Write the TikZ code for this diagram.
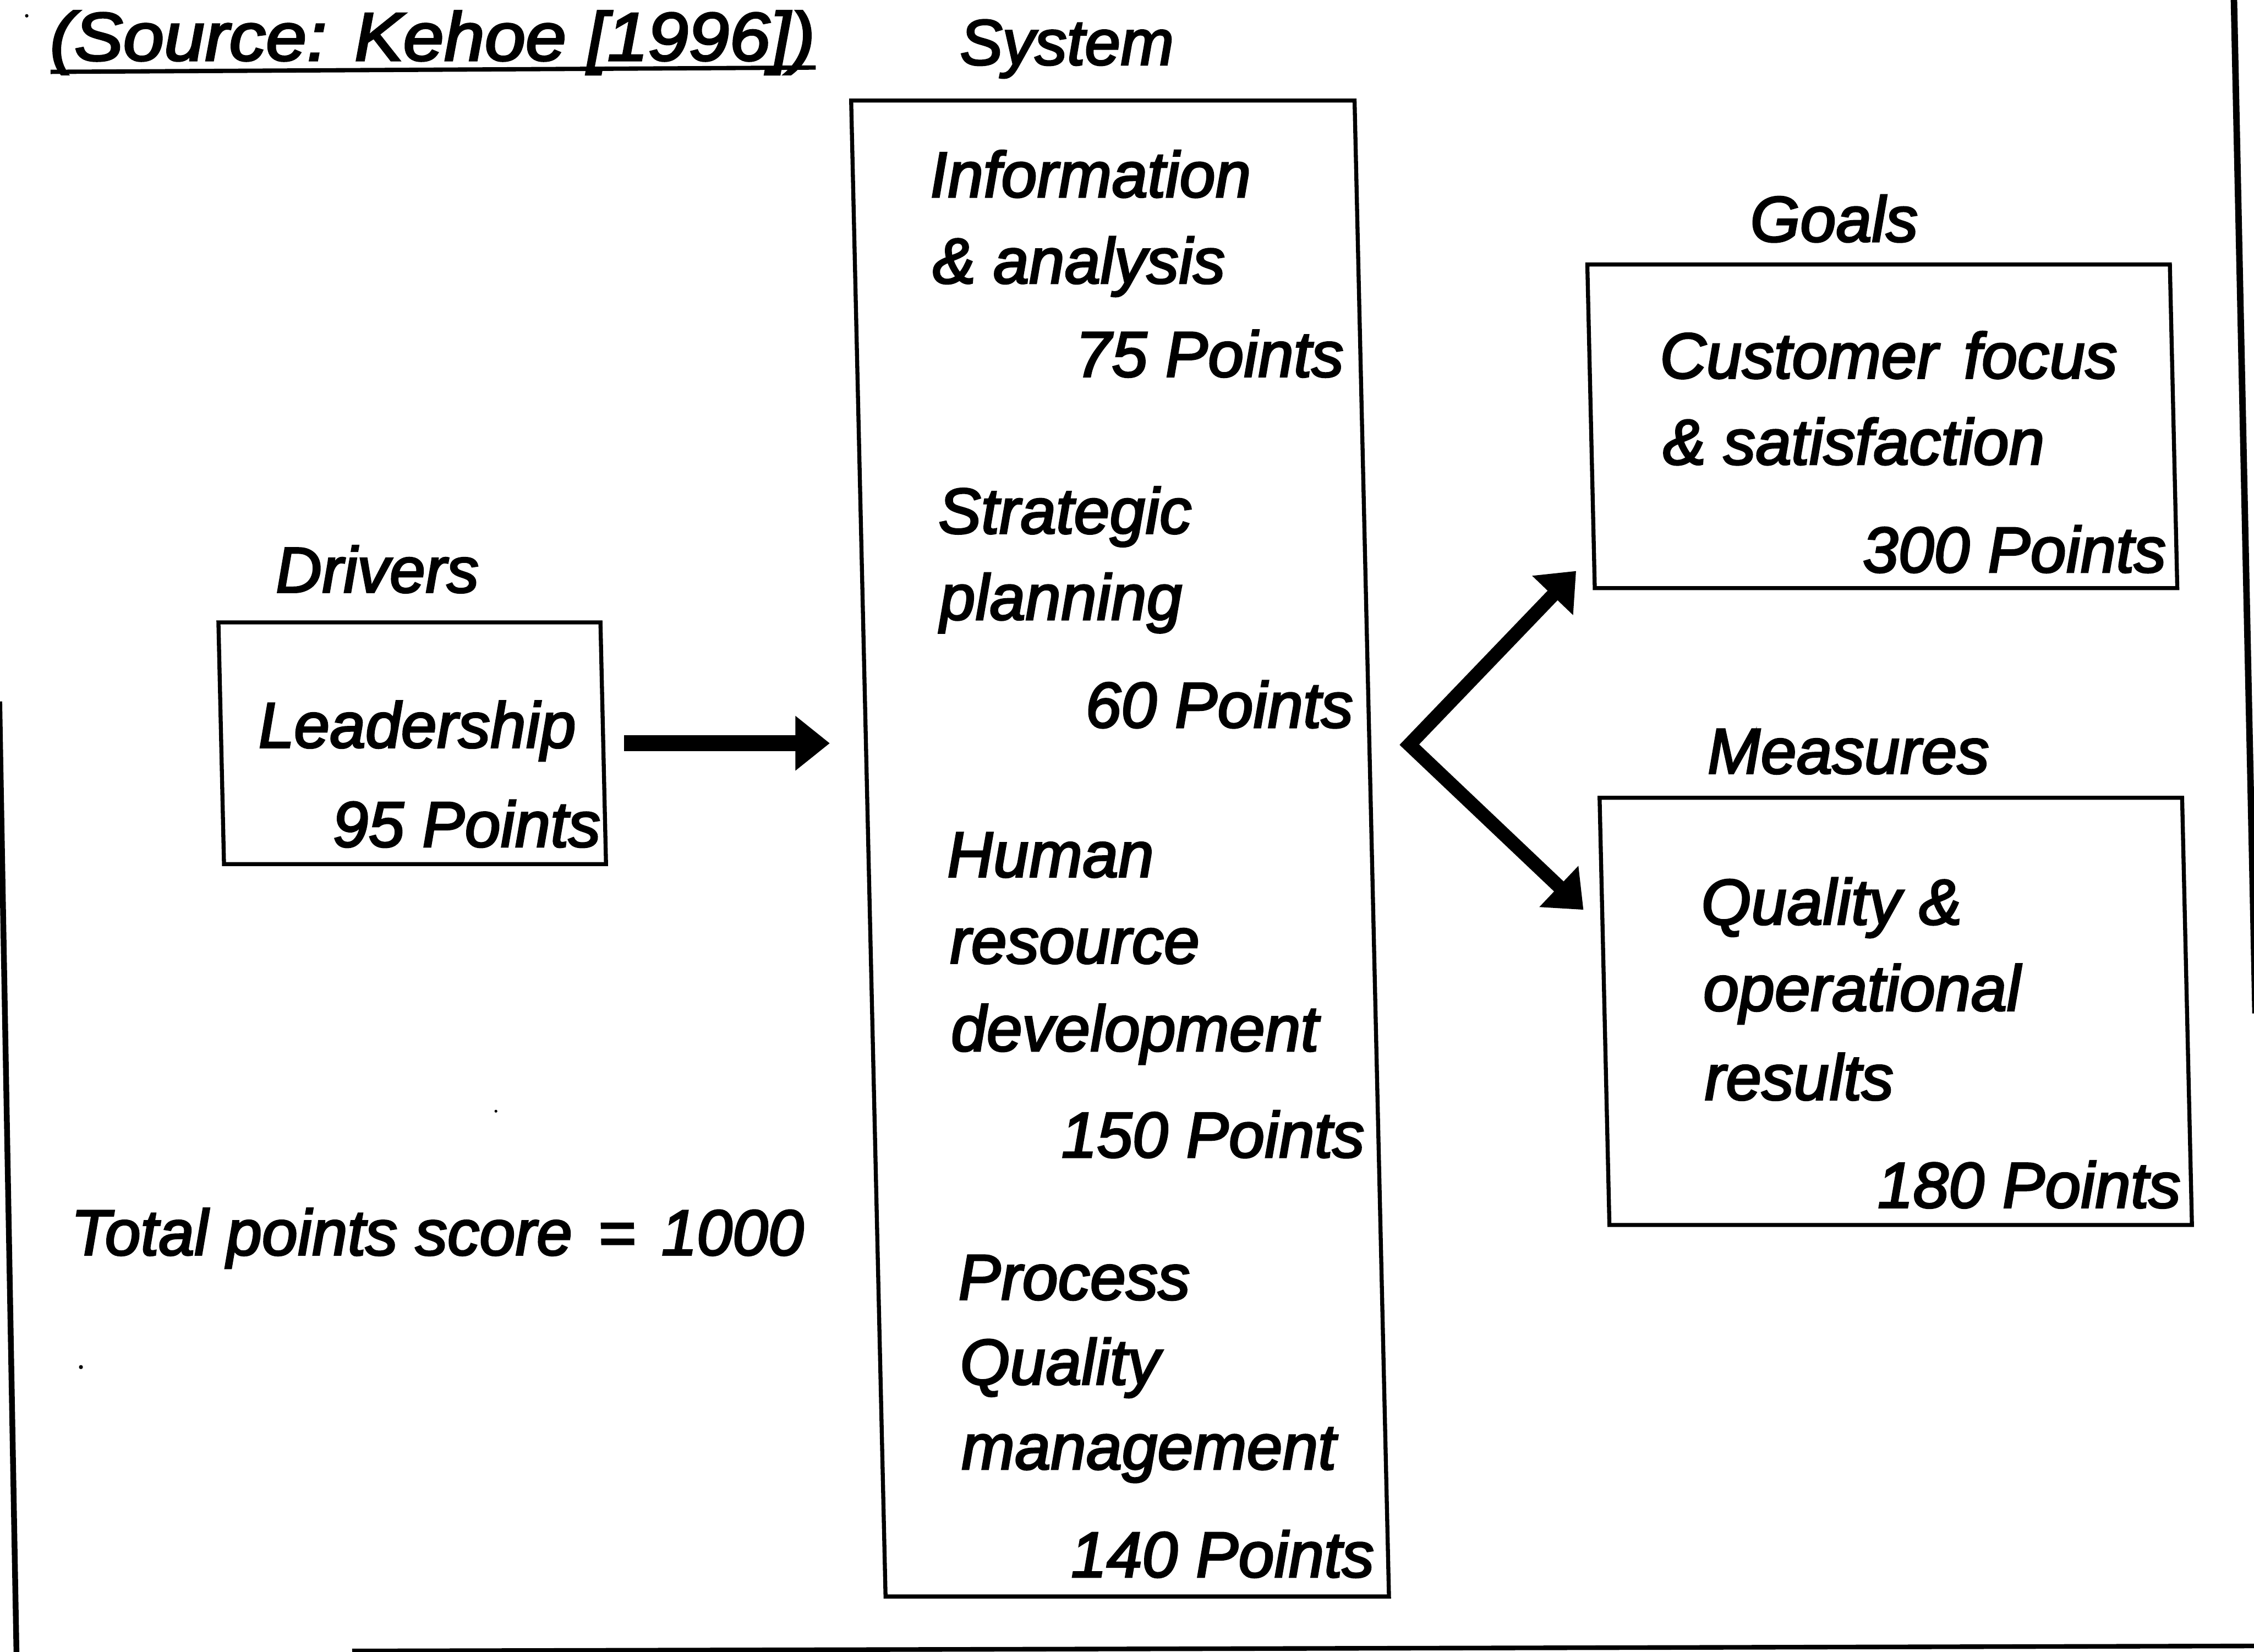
\documentclass[tikz,border=0pt]{standalone}
\usepackage{fontspec}
\setmainfont{Liberation Sans}
\newfontfamily\lblfam{Liberation Sans}[FakeBold=3, ItalicFeatures={FakeBold=3}]
\usetikzlibrary{arrows.meta,calc}
\newcommand\lblfont{\lblfam\fontsize{12.7pt}{15pt}\selectfont\itshape}
\newcommand\srcfont{\lblfam\fontsize{13.5pt}{16pt}\selectfont\itshape}

\begin{document}
\begin{tikzpicture}[x=0.01cm, y=-0.01cm,
  lbl/.style={inner sep=0pt, outer sep=0pt, anchor=base west, font=\lblfont},
  pts/.style={lbl, anchor=base east},
  panel/.style={draw, line width=0.028cm, inner sep=0pt, outer sep=0pt, anchor=north west},
  feedarrow/.style={line width=0.113cm, -{Triangle[length=0.24cm, width=0.366cm]}},
  forkarrow/.style={line width=0.096cm, line join=miter,
    {Triangle[length=0.236cm, width=0.379cm]}-{Triangle[length=0.236cm, width=0.379cm]}},
  pageedge/.style={line width=0.04cm}
]
\useasboundingbox (0,0) rectangle (1568,1149);

% edges of the scanned sheet
\draw[pageedge] (-0.5,488) -- (11.5,1152);
\draw[pageedge, line width=0.045cm] (1554,-2) -- (1569,705);
\draw[pageedge, line width=0.032cm] (245,1148.5) -- (1570,1145);

% small specks
\fill (18.6,11) circle[radius=0.012cm];
\fill (345,773) circle[radius=0.01cm];
\fill (56.3,951) circle[radius=0.014cm];

\begin{scope}[xslant=-0.023, transform shape]
  % source line
  \node[lbl, font=\srcfont, xscale=1.075] (src) at (34,42) {(Source: Kehoe [1996])};
  \draw[line width=0.03cm] ($(src.base west)+(0,8)$) -- ($(src.base east)+(0,5)$);

  % boxes
  \node[panel, minimum width=2.656cm, minimum height=1.68cm] (lead) at (142,433) {};
  \node[panel, minimum width=3.5cm, minimum height=10.4cm] (sys) at (590.5,70) {};
  \node[panel, minimum width=4.05cm, minimum height=2.25cm] (goals) at (1100,184) {};
  \node[panel, minimum width=4.05cm, minimum height=2.97cm] (meas) at (1100,555) {};

  % drivers
  \node[lbl] (drvhead) at (182.5,412) {Drivers};
  \node[lbl] (lead1) at (168,520) {Leadership};
  \node[pts] (leadpts) at (404.5,589) {95 Points};

  % system
  \node[lbl] (syshead) at (667,45) {System};
  \node[lbl] (info1) at (644,137) {Information};
  \node[lbl] (info2) at (644.5,197) {\& analysis};
  \node[pts] (infopts) at (929,262) {75 Points};
  \node[lbl] (strat1) at (644.5,371) {Strategic};
  \node[lbl] (strat2) at (644,431) {planning};
  \node[pts] (stratpts) at (930,506) {60 Points};
  \node[lbl] (hr1) at (645,610) {Human};
  \node[lbl] (hr2) at (645.6,670) {resource};
  \node[lbl] (hr3) at (645,731) {development};
  \node[pts] (hrpts) at (931,805) {150 Points};
  \node[lbl] (pq1) at (646,904) {Process};
  \node[lbl] (pq2) at (646,963) {Quality};
  \node[lbl] (pq3) at (645.5,1022) {management};
  \node[pts] (pqpts) at (931,1097) {140 Points};

  % goals
  \node[lbl] (goalhead) at (1214,168) {Goals};
  \node[lbl] (cust1) at (1149,263) {Customer\hspace{0.4em}focus};
  \node[lbl] (cust2) at (1149.6,323) {\& satisfaction};
  \node[pts] (custpts) at (1498,398) {300 Points};

  % measures
  \node[lbl] (meashead) at (1175.6,538) {Measures};
  \node[lbl] (qual1) at (1169,643) {Quality \&};
  \node[lbl] (qual2) at (1169,703) {operational};
  \node[lbl] (qual3) at (1168.4,765) {results};
  \node[pts] (qualpts) at (1498,840) {180 Points};

  % total
  \node[lbl] (total) at (30,873) {Total points score\hspace{0.4em}=\hspace{0.4em}1000};

  % connectors
  \draw[feedarrow, shorten <=0.145cm, shorten >=0.251cm] (lead.east) -- (lead.east -| sys.west);
  \coordinate (fork) at (968.5,518);
  \coordinate (gtip) at (1087.3,397.2);
  \coordinate (mtip) at (1087,632.9);
  \draw[forkarrow] (gtip) -- (fork) -- (mtip);
\end{scope}
\end{tikzpicture}
\end{document}
